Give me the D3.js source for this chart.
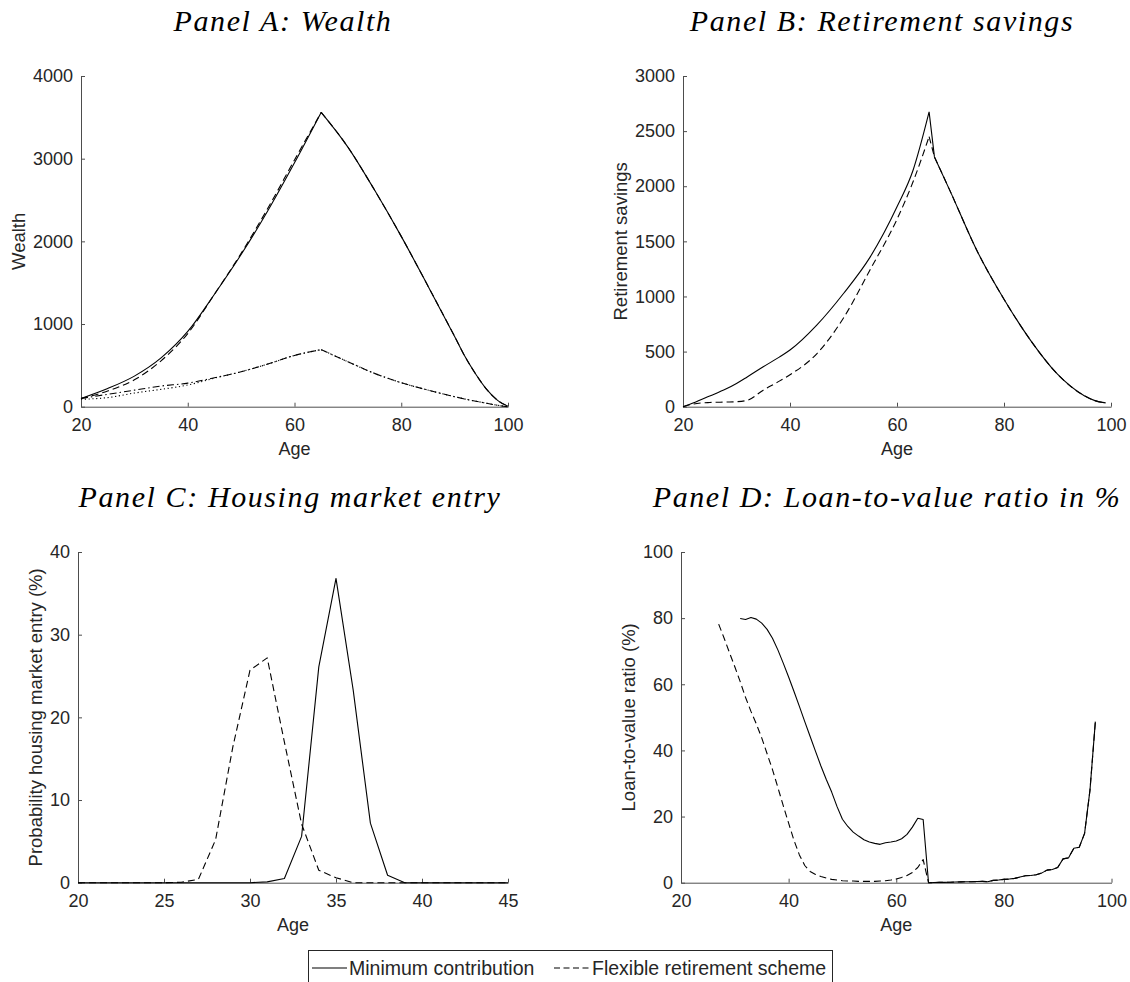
<!DOCTYPE html>
<html><head><meta charset="utf-8">
<script src="https://cdn.jsdelivr.net/npm/d3@7"></script>
<style>
body{margin:0;background:#fff}
svg{display:block;background:#fff}
text{font-family:"Liberation Sans",Arial,Helvetica,sans-serif;fill:#262626}
</style>
</head><body>
<svg id="c" width="1130" height="982"></svg>
<script>
// ---------- DATA ----------
// Panel A: Wealth
const ageA          = [20,25,30,35,40,45,50,55,60,65,70,75,80,85,90,92,94,96,98,100];
const wealthMin     = [100,220,370,590,910,1360,1840,2370,2950,3560,3140,2620,2060,1460,850,600,390,210,80,5];
const wealthFlex    = [100,190,325,555,885,1360,1855,2400,2985,3560,3140,2620,2060,1460,850,600,390,210,80,5];
const wealthLowMin  = [100,150,200,250,285,350,423,516,620,690,544,403,290,201,121,92,66,42,18,0];
const wealthLowFlex = [90,110,165,210,262,345,423,516,620,690,544,403,290,201,121,92,66,42,18,0];

// Panel B: Retirement savings
const ageB        = [20,22,25,28,30,32,35,38,40,45,50,55,60,63,66,67,70,75,80,85,90,95,97,99];
const retireMin   = [0,35,97,160,211,270,362,450,514,740,1027,1359,1813,2145,2674,2266,1949,1410,975,600,295,100,55,35];
const retireFlex  = [0,25,38,42,45,58,150,232,290,480,805,1245,1700,2040,2450,2266,1949,1410,975,600,295,100,55,35];

// Panel C: Housing market entry (%)
const ageC       = [20,21,22,23,24,25,26,27,28,29,30,31,32,33,34,35,36,37,38,39,40,41,42,43,44,45];
const entryMin   = [0,0,0,0,0,0,0,0,0,0,0,0.1,0.5,5.6,26.1,36.8,23.3,7.2,0.9,0,0,0,0,0,0,0];
const entryFlex  = [0,0,0,0,0,0,0.05,0.4,5.2,16.4,25.7,27.2,17.0,7.1,1.5,0.6,0,0,0,0,0,0,0,0,0,0];

// Panel D: Loan-to-value ratio (%)
const ageDMin  = [31,32,33,34,35,36,37,38,39,40,41,42,43,44,45,46,47,48,49,50,51,52,53,54,55,56,57,58,59,60,61,62,63,64,65];
const ltvMin   = [79.9,79.6,80.2,79.7,78.5,76.6,73.9,70.4,66.4,62.2,57.8,53.3,48.7,44.2,39.7,35.3,31.2,27.4,23.0,19.2,17.0,15.3,14.1,13.0,12.3,11.9,11.6,12.1,12.3,12.6,13.3,14.6,16.8,19.5,19.1];
const ageDFlex = [27,28,29,30,31,32,33,34,35,36,37,38,39,40,41,42,43,44,45,46,47,48,49,50,51,52,53,54,55,56,57,58,59,60,61,62,63,64,65];
const ltvFlex  = [78.2,74.0,69.6,65.3,60.8,56.0,51.8,48.0,43.8,39.0,34.2,28.8,23.3,18.0,12.8,8.4,5.2,3.4,2.5,1.9,1.4,1.0,0.8,0.6,0.5,0.5,0.4,0.4,0.4,0.4,0.5,0.6,0.8,1.1,1.6,2.2,3.1,4.6,7.0];
// after retirement (both schemes coincide)
const ageDRet  = [66,67,68,69,70,71,72,73,74,75,76,77,78,79,80,81,82,83,84,85,86,87,88,89,90,91,92,93,94,95,96,97];
const ltvRet   = [0,0.05,0.1,0.1,0.15,0.2,0.25,0.3,0.3,0.35,0.4,0.3,0.7,0.8,1.0,1.1,1.3,1.7,2.1,2.2,2.4,2.9,3.8,4.0,4.6,7.2,7.5,10.4,10.7,14.9,28.0,48.7];

// Tick values
const ticksXA = [20,40,60,80,100], ticksYA = [0,1000,2000,3000,4000];
const ticksXB = [20,40,60,80,100], ticksYB = [0,500,1000,1500,2000,2500,3000];
const ticksXC = [20,25,30,35,40,45], ticksYC = [0,10,20,30,40];
const ticksXD = [20,40,60,80,100], ticksYD = [0,20,40,60,80,100];

const legendLabels = ["Minimum contribution","Flexible retirement scheme"];

// ---------- DRAW ----------
const svg = d3.select("#c");
const DASH = "7,4", DOT = "1.2,2.6", DASHDOT = "7,3,1.5,3";

function panel(cfg){
  const x = d3.scaleLinear().domain(cfg.xd).range([cfg.x0, cfg.x1]);
  const y = d3.scaleLinear().domain(cfg.yd).range([cfg.y1, cfg.y0]);
  const g = svg.append("g");
  const xa = d3.axisBottom(x).tickValues(cfg.xt).tickFormat(d3.format("d"))
      .tickSizeInner(-4).tickSizeOuter(0).tickPadding(12);
  const ya = d3.axisLeft(y).tickValues(cfg.yt).tickFormat(d3.format("d"))
      .tickSizeInner(-4).tickSizeOuter(0).tickPadding(8);
  const gx = g.append("g").attr("transform",`translate(0,${cfg.y1})`).call(xa);
  const gy = g.append("g").attr("transform",`translate(${cfg.x0},0)`).call(ya);
  [gx,gy].forEach(a=>{
    a.select(".domain").attr("stroke","#4d4d4d").attr("stroke-width",1);
    a.selectAll(".tick line").attr("stroke","#4d4d4d");
    a.selectAll(".tick text").attr("font-size",18).attr("fill","#262626")
      .attr("font-family",'"Liberation Sans",Arial,sans-serif');
  });
  g.append("text").attr("x",(cfg.x0+cfg.x1)/2).attr("y",cfg.y1+48)
    .attr("text-anchor","middle").attr("font-size",18).text("Age");
  g.append("text").attr("transform",`translate(${cfg.ylx},${(cfg.y0+cfg.y1)/2}) rotate(-90)`)
    .attr("text-anchor","middle").attr("font-size",18.5).text(cfg.ylabel);
  g.append("text").attr("x",cfg.tx).attr("y",cfg.y0-45)
    .attr("text-anchor","middle")
    .style("font-family",'"Liberation Serif","Times New Roman",serif')
    .style("font-style","italic").attr("font-size",30).attr("letter-spacing","1.6px")
    .style("fill","#000").text(cfg.title);
  cfg.series.forEach(s=>{
    const pts = s.ages.map((a,i)=>[a,s.vals[i]]);
    const segs=[[]];
    pts.forEach(p=>{segs[segs.length-1].push(p); if((s.breaks||[]).includes(p[0])) segs.push([p]);});
    const line = d3.line().x(d=>x(d[0])).y(d=>y(d[1])).curve(s.curve||d3.curveLinear);
    const d = segs.filter(q=>q.length>1).map(q=>line(q)).join("");
    g.append("path").attr("d",d).attr("fill","none").attr("stroke","#000")
      .attr("stroke-width",1.1).attr("stroke-dasharray",s.dash||null)
      .attr("stroke-linejoin","round");
  });
}

const mono = d3.curveMonotoneX;

panel({x0:81,x1:508,y0:76,y1:406.7,xd:[20,100],yd:[0,4000],xt:ticksXA,yt:ticksYA,
  ylabel:"Wealth",ylx:25,title:"Panel A: Wealth",tx:283,
  series:[
    {ages:ageA,vals:wealthLowFlex,dash:DOT,curve:mono,breaks:[65]},
    {ages:ageA,vals:wealthLowMin,dash:DASHDOT,curve:mono,breaks:[65]},
    {ages:ageA,vals:wealthFlex,dash:DASH,curve:mono,breaks:[65]},
    {ages:ageA,vals:wealthMin,curve:mono,breaks:[65]}
  ]});

panel({x0:683,x1:1111,y0:76,y1:406.7,xd:[20,100],yd:[0,3000],xt:ticksXB,yt:ticksYB,
  ylabel:"Retirement savings",ylx:627,title:"Panel B: Retirement savings",tx:882,
  series:[
    {ages:ageB,vals:retireFlex,dash:DASH,curve:mono,breaks:[66,67]},
    {ages:ageB,vals:retireMin,curve:mono,breaks:[66,67]}
  ]});

panel({x0:78,x1:508,y0:552,y1:882.7,xd:[20,45],yd:[0,40],xt:ticksXC,yt:ticksYC,
  ylabel:"Probability housing market entry (%)",ylx:42,title:"Panel C: Housing market entry",tx:290,
  series:[
    {ages:ageC,vals:entryFlex,dash:DASH},
    {ages:ageC,vals:entryMin}
  ]});

panel({x0:681,x1:1111.5,y0:552,y1:882.7,xd:[20,100],yd:[0,100],xt:ticksXD,yt:ticksYD,
  ylabel:"Loan-to-value ratio (%)",ylx:635,title:"Panel D: Loan-to-value ratio in %",tx:887,
  series:[
    {ages:ageDFlex.concat(ageDRet),vals:ltvFlex.concat(ltvRet),dash:DASH},
    {ages:ageDMin.concat(ageDRet),vals:ltvMin.concat(ltvRet)}
  ]});

// ---------- LEGEND ----------
const lg = svg.append("g");
lg.append("rect").attr("x",308.5).attr("y",950.5).attr("width",524).attr("height",40)
  .attr("fill","#fff").attr("stroke","#262626").attr("stroke-width",1);
lg.append("line").attr("x1",312).attr("x2",347).attr("y1",968).attr("y2",968)
  .attr("stroke","#000").attr("stroke-width",1.1);
lg.append("text").attr("x",349).attr("y",975).attr("font-size",19.5).text(legendLabels[0]);
lg.append("line").attr("x1",554).attr("x2",590).attr("y1",968).attr("y2",968)
  .attr("stroke","#000").attr("stroke-width",1.1).attr("stroke-dasharray","6,3.5");
lg.append("text").attr("x",592).attr("y",975).attr("font-size",19.5).text(legendLabels[1]);
</script>
</body></html>
